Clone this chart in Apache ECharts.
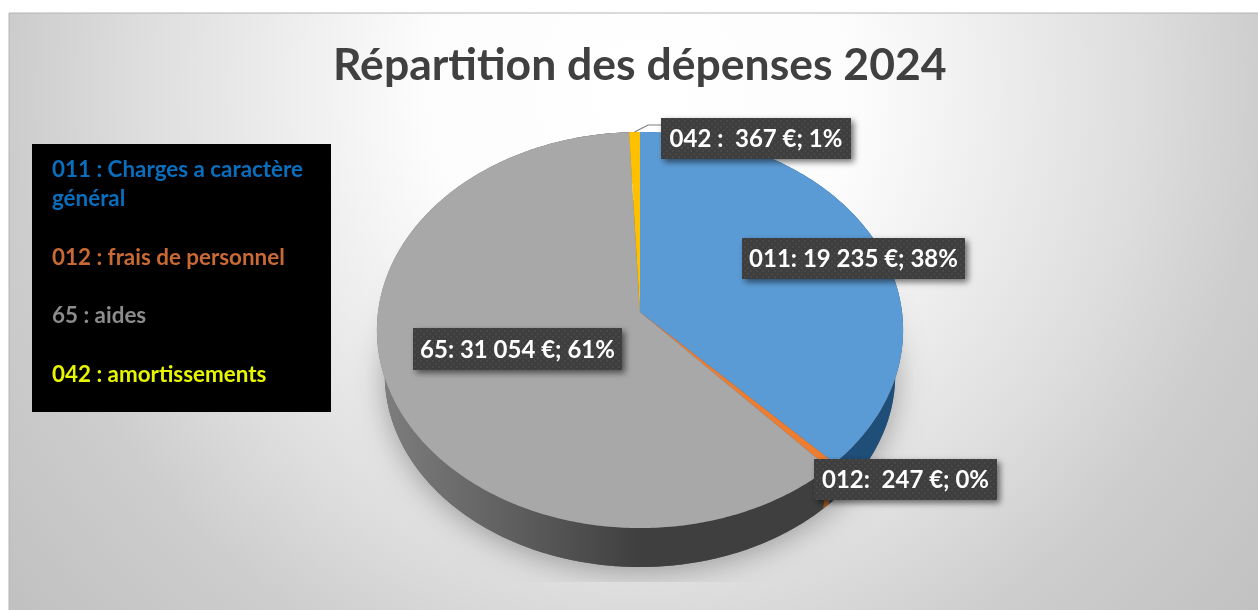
<!DOCTYPE html>
<html><head><meta charset="utf-8">
<style>html,body{margin:0;padding:0;background:#fff}#c{width:1258px;height:610px}</style>
<script src="https://cdn.jsdelivr.net/npm/echarts@6/dist/echarts.min.js"></script>
</head><body><div id="c"></div>
<script>
// --- data
const chartTitle = 'Répartition des dépenses 2024';
const categories = ['011', '012', '65', '042'];
const values = [19235, 247, 31054, 367];
const sliceLabels = ['011: 19 235 €; 38%', '012:  247 €; 0%', '65: 31 054 €; 61%', '042 :  367 €; 1%'];
const legendLines = ['011 : Charges a caractère', 'général', '012 : frais de personnel', '65 : aides', '042 : amortissements'];

// --- styles and layout
const topColors = ['#5B9BD5', '#ED7D31', '#A8A8A8', '#FFC000'];
const legendColors = ['#0A6EBD', '#0A6EBD', '#C96A35', '#8C8C8C', '#E8F500'];
const legendY = [170, 199, 258, 316, 375];
const labelBoxes = [[742, 238, 223, 41], [814, 459, 183, 41], [413, 328, 209, 42], [661, 118, 190, 41]];
const FONT = 'Lato, Carlito, sans-serif';
const P = { cx: 640, cy: 312, d: 262, a: 196.4, c: -0.0909, depthK: 0.97, depthY: 45.5 };

const total = values.reduce((a, b) => a + b, 0);
function sliceRange(i) {
  let s = 0;
  for (let k = 0; k < i; k++) s += values[k];
  return [s / total * Math.PI * 2, (s + values[i]) / total * Math.PI * 2];
}
function rim(theta, k, dy) {
  const u = Math.sin(theta), v = -Math.cos(theta), w = 1 + P.c * v;
  return [P.cx + k * P.d * u / w, P.cy + k * P.a * v / w + dy];
}
function arcPts(t0, t1, k, dy) {
  const n = Math.max(2, Math.ceil((t1 - t0) / 0.012)), pts = [];
  for (let i = 0; i <= n; i++) pts.push(rim(t0 + (t1 - t0) * i / n, k, dy));
  return pts;
}
const dotCanvas = document.createElement('canvas');
dotCanvas.width = dotCanvas.height = 6;
(function () {
  const g = dotCanvas.getContext('2d');
  g.fillStyle = '#3E3E3E'; g.fillRect(0, 0, 6, 6);
  g.fillStyle = '#484848'; g.fillRect(0, 0, 2, 2); g.fillRect(3, 3, 2, 2);
})();

function renderShadow(params) {
  return {
    type: 'polygon',
    shape: { points: arcPts(0, Math.PI * 2, P.depthK, P.depthY) },
    clipPath: { type: 'rect', shape: { x: 300, y: 200, width: 700, height: 382 } },
    style: { fill: 'rgba(90,90,90,0.9)', shadowBlur: 30, shadowColor: 'rgba(0,0,0,0.36)', shadowOffsetX: 0, shadowOffsetY: 4 }
  };
}
const wallFills = [
  '#1F4E79', '#A9551F',
  new echarts.graphic.LinearGradient(375, 0, 640, 0, [
    { offset: 0, color: '#7F7F7F' }, { offset: 0.5, color: '#606060' }, { offset: 1, color: '#3F3F3F' }
  ], true),
  '#A87F00'
];
function renderWall(params, api) {
  const i = params.dataIndex, r = sliceRange(i);
  const pts = arcPts(r[0], r[1], 1, 0).concat(arcPts(r[0], r[1], P.depthK, P.depthY).reverse());
  return { type: 'polygon', shape: { points: pts }, style: { fill: wallFills[i], lineWidth: 0 } };
}
function renderTop(params, api) {
  const i = params.dataIndex, r = sliceRange(i);
  const pts = [[P.cx, P.cy]].concat(arcPts(r[0], r[1], 1, 0));
  return { type: 'polygon', shape: { points: pts }, style: { fill: api.visual('color') } };
}
function renderLabel(params, api) {
  const i = params.dataIndex, b = labelBoxes[i];
  const kids = [
    { type: 'rect', shape: { x: b[0], y: b[1], width: b[2], height: b[3] },
      style: { fill: { image: dotCanvas, repeat: 'repeat' }, shadowBlur: 6, shadowColor: 'rgba(0,0,0,0.55)', shadowOffsetX: 3, shadowOffsetY: 3 } },
    { type: 'text', x: b[0] + b[2] / 2, y: b[1] + b[3] / 2 + 1,
      style: { text: sliceLabels[i], fill: '#FFFFFF', font: 'bold 24px ' + FONT, align: 'center', verticalAlign: 'middle' } }
  ];
  if (i === 3) {
    const r = sliceRange(i), p = rim((r[0] + r[1]) / 2, 1, 0);
    kids.unshift({ type: 'polyline', shape: { points: [p, [648, 125], [b[0], 125]] }, style: { fill: 'none', stroke: '#7F7F7F', lineWidth: 1.2 } });
  }
  return { type: 'group', children: kids };
}
const seriesData = categories.map((c, i) => ({ name: c, value: values[i], itemStyle: { color: topColors[i] } }));
const panelFill = new echarts.graphic.RadialGradient(640, 90, 870, [
  { offset: 0, color: '#FFFFFF' }, { offset: 0.25, color: '#FCFCFC' }, { offset: 0.38, color: '#F0F0F0' },
  { offset: 0.58, color: '#DDDDDD' }, { offset: 0.72, color: '#CDCDCD' }, { offset: 0.93, color: '#C1C1C1' }, { offset: 1, color: '#BEBEBE' }
], true);

const chart = echarts.init(document.getElementById('c'), null, { renderer: 'canvas' });
chart.setOption({
  animation: false,
  backgroundColor: '#FFFFFF',
  title: { text: chartTitle, left: 328, top: 38, textStyle: { color: '#404040', fontFamily: FONT, fontWeight: 'bold', fontSize: 44.5 } },
  graphic: [
    { type: 'rect', z: -10, silent: true, shape: { x: 9, y: 13, width: 1260, height: 610 }, style: { fill: panelFill, stroke: '#B4B4B4', lineWidth: 1 } },
    { type: 'rect', z: 1, silent: true, shape: { x: 32, y: 144, width: 299, height: 268 }, style: { fill: '#000000' } }
  ].concat(legendLines.map((t, i) => ({
    type: 'text', z: 2, silent: true, x: 52, y: legendY[i],
    style: { text: t, fill: legendColors[i], font: 'bold 22.4px ' + FONT, verticalAlign: 'middle' }
  }))),
  series: [
    { type: 'custom', name: 'ombre', coordinateSystem: 'none', silent: true, z: 1, data: [[total]], renderItem: renderShadow },
    { type: 'custom', name: 'tranche', coordinateSystem: 'none', silent: true, z: 2, data: seriesData, renderItem: renderWall },
    { type: 'custom', name: 'Dépenses 2024', coordinateSystem: 'none', silent: true, z: 3, data: seriesData, renderItem: renderTop },
    { type: 'custom', name: 'étiquettes', coordinateSystem: 'none', silent: true, z: 4, data: seriesData, renderItem: renderLabel }
  ]
});
</script></body></html>
